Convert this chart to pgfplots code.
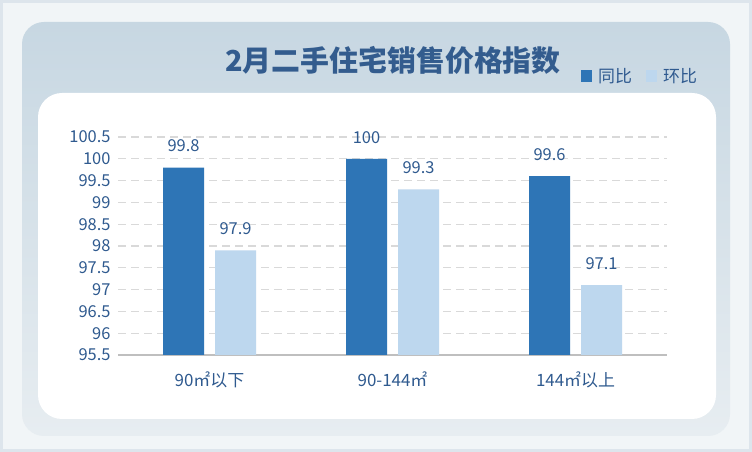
\documentclass[border=0pt]{standalone}
\usepackage{pgfplots}
\pgfplotsset{compat=1.18}
\usepackage{fontspec}
\setmainfont{Noto Sans CJK SC}
\definecolor{darkbar}{HTML}{2E75B6}
\definecolor{lightbar}{HTML}{BDD7EE}
\definecolor{txt}{HTML}{2F5A8F}
\definecolor{titlec}{HTML}{335C8E}
\definecolor{outerbg}{HTML}{DDE5EC}
\definecolor{paneltop}{HTML}{C7D7E2}
\definecolor{panelbot}{HTML}{E7EDF1}
\definecolor{gridc}{HTML}{D9D9D9}
\begin{document}
\begin{tikzpicture}[x=1bp,y=1bp]
\useasboundingbox (0,0) rectangle (752,452);
\fill[outerbg] (0,0) rectangle (752,452);
\fill[white!60!outerbg] (3,3) rectangle (749,449);
\shade[top color=paneltop,bottom color=panelbot,rounded corners=22bp] (22,16) rectangle (730,430);
\fill[white,rounded corners=24bp] (38,33) rectangle (716,359);
\node[font=\fontsize{29}{32}\selectfont\bfseries,text=titlec,anchor=center] at (393,392) {2月二手住宅销售价格指数};
\fill[darkbar] (581,370) rectangle (592,382);
\node[font=\fontsize{17}{20}\selectfont,text=txt,anchor=west,inner sep=0] at (598,376) {同比};
\fill[lightbar] (646,370) rectangle (657,382);
\node[font=\fontsize{17}{20}\selectfont,text=txt,anchor=west,inner sep=0] at (663,376) {环比};
\begin{axis}[
  at={(118bp,97bp)}, anchor=south west,
  scale only axis, width=549bp, height=218bp,
  xmin=-0.5, xmax=2.5, ymin=95.5, ymax=100.5,
  ytick={95.5,96,...,100.5},
  yticklabels={95.5,96,96.5,97,97.5,98,98.5,99,99.5,100,100.5},
  xtick={0,1,2},
  xticklabels={90㎡以下,90-144㎡,144㎡以上},
  axis y line*=left, axis x line*=bottom,
  y axis line style={draw=none},
  x axis line style={draw=black!25, line width=1.5bp},
  major tick length=0pt,
  tick style={draw=none},
  ymajorgrids, grid style={gridc, line width=1.3bp, dash pattern=on 8bp off 5bp},
  yticklabel style={font=\fontsize{16.5}{18}\selectfont, text=txt, xshift=-4bp},
  xticklabel style={font=\fontsize{17}{19}\selectfont, text=txt, yshift=-13bp},
  ybar, bar width=41bp,
  nodes near coords,
  nodes near coords style={font=\fontsize{16.5}{18}\selectfont, text=txt, yshift=12bp},
  point meta=explicit symbolic,
  clip=false,
]
\addplot[fill=darkbar, draw=none, bar shift=-26bp] coordinates {(0,99.8)[99.8] (1,100)[100] (2,99.6)[99.6]};
\addplot[fill=lightbar, draw=none, bar shift=26bp] coordinates {(0,97.9)[97.9] (1,99.3)[99.3] (2,97.1)[97.1]};
\end{axis}
\end{tikzpicture}
\end{document}
